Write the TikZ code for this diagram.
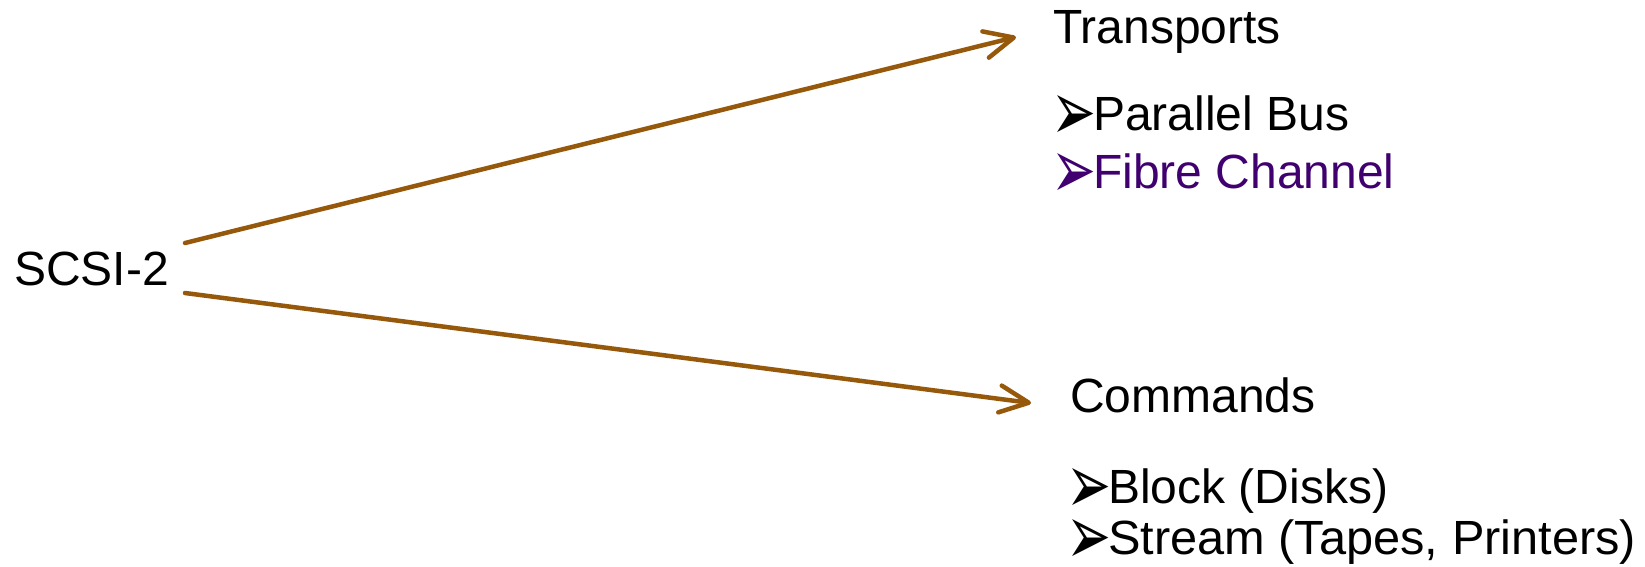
\documentclass[tikz,border=0pt]{standalone}
\usepackage{fontspec}
\usepackage{graphicx}
\setmainfont{Liberation Sans}
\newfontfamily\bulfont{DejaVu Sans}
\usetikzlibrary{arrows.meta}
\definecolor{arrowbrown}{RGB}{150,88,10}
\definecolor{fibrepurple}{RGB}{64,0,112}
\newcommand{\bul}{\makebox[35pt][l]{\hspace*{-6.5pt}\raisebox{\dimexpr\depth-10pt\relax}[33pt][0pt]{\resizebox*{45pt}{45pt}{\bulfont ➢}}}}
\tikzset{
  lbl/.style={anchor=base west, inner sep=0pt, font=\fontsize{48pt}{56pt}\selectfont},
  conn/.style={draw=arrowbrown, line width=4.5pt, line cap=round,
    -{Straight Barb[length=29pt, width=27pt, line cap=round, line join=round]}}
}
\begin{document}
\begin{tikzpicture}[x=1pt, y=-1pt]
\fill[white] (0,0) rectangle (1645,566);
\useasboundingbox (0,0) rectangle (1645,566);
\node[lbl] (scsi) at (14,285) {SCSI-2};
\node[lbl] (transports) at (1053,43) {Transports};
\node[lbl] (parallel) at (1058,130) {\bul Parallel Bus};
\node[lbl, text=fibrepurple] (fibre) at (1058,188) {\bul Fibre Channel};
\node[lbl] (commands) at (1070,412) {Commands};
\node[lbl] (block) at (1073,503) {\bul Block (Disks)};
\node[lbl] (stream) at (1073,554) {\bul \scalebox{1.015}[1]{Stream (Tapes, Printers)}};
\coordinate (s1) at (185,243);
\coordinate (s2) at (185,293);
\coordinate (t1) at (1016,37);
\coordinate (t2) at (1031,403);
\draw[conn] (s1) -- (t1);
\draw[conn] (s2) -- (t2);
\end{tikzpicture}
\end{document}
